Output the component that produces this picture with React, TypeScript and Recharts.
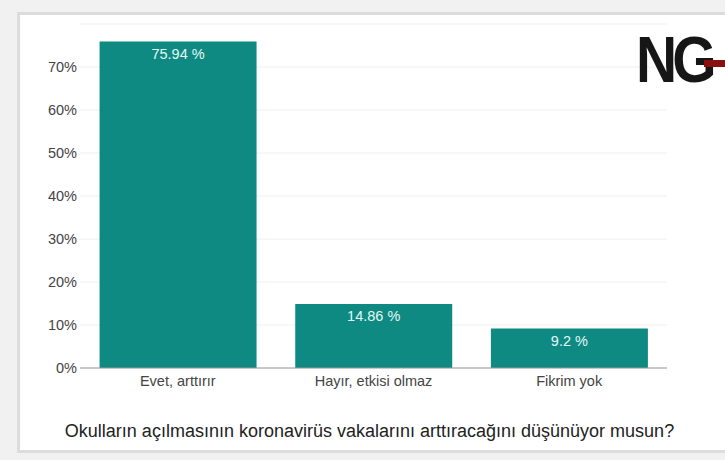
import { Bar, BarChart, CartesianGrid, LabelList, XAxis, YAxis } from "recharts";

const answers = ["Evet, arttırır", "Hayır, etkisi olmaz", "Fikrim yok"];
const shares = [75.94, 14.86, 9.2];
const yTicks = [0, 10, 20, 30, 40, 50, 60, 70];

const question =
  "Okulların açılmasının koronavirüs vakalarını arttıracağını düşünüyor musun?";

const data = answers.map((answer, i) => ({ answer, share: shares[i] }));

const font = "Arial, 'Liberation Sans', sans-serif";

export default function App() {
  return (
    <div
      style={{
        position: "absolute",
        left: 0,
        top: 0,
        width: 725,
        height: 460,
        background: "#f1f1f1",
        overflow: "hidden",
        fontFamily: font,
      }}
    >
      <div
        style={{
          position: "absolute",
          left: 17,
          top: 12,
          width: 720,
          height: 441,
          background: "#fff",
          border: "3px solid #dcdcdc",
          boxSizing: "border-box",
        }}
      />
      <BarChart
        width={725}
        height={460}
        data={data}
        margin={{ top: 24, right: 58, bottom: 62, left: 20 }}
        barCategoryGap="10%"
        style={{ position: "absolute", left: 0, top: 0 }}
      >
        <CartesianGrid stroke="#eeeeee" vertical={false} />
        <XAxis
          dataKey="answer"
          axisLine={{ stroke: "#999" }}
          tickLine={false}
          height={30}
          tick={{ fill: "#444", fontSize: 14.5, fontFamily: font }}
          tickMargin={2}
        />
        <YAxis
          domain={[0, 80]}
          ticks={yTicks}
          width={60}
          axisLine={false}
          tickLine={false}
          tickSize={0}
          tickMargin={3}
          tickFormatter={(v: number) => `${v}%`}
          tick={{ fill: "#444", fontSize: 14.5, fontFamily: font }}
        />
        <Bar dataKey="share" fill="#0f8a82" isAnimationActive={false}>
          <LabelList
            dataKey="share"
            position="insideTop"
            offset={7}
            formatter={(v: number) => `${v} %`}
            style={{ fill: "#e3f8f5", fontSize: 14.5, fontFamily: font }}
          />
        </Bar>
      </BarChart>
      <div
        style={{
          position: "absolute",
          left: 17,
          width: 705,
          top: 421,
          textAlign: "center",
          fontSize: 18,
          color: "#222",
        }}
      >
        {question}
      </div>
      {/* logo, squeezed a little taller than the plain font */}
      <div
        style={{
          position: "absolute",
          left: 636,
          top: 27,
          fontSize: 57,
          fontWeight: 700,
          letterSpacing: -5,
          color: "#161616",
          lineHeight: 1,
          transform: "scaleY(1.15)",
          transformOrigin: "top left",
        }}
      >
        NG
      </div>
      <div
        style={{
          position: "absolute",
          left: 704,
          top: 60,
          width: 22,
          height: 7,
          background: "#8a1010",
        }}
      />
    </div>
  );
}
